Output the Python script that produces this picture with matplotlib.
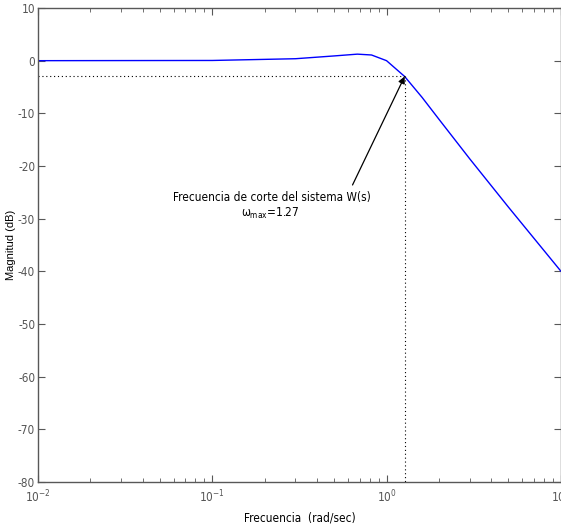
import numpy as np
import matplotlib
matplotlib.use("Agg")
import matplotlib.pyplot as plt
from matplotlib.ticker import LogLocator, FixedLocator

# magnitude response of W(s), sampled as on the bode plot
freq = [0.01, 0.1, 0.3, 0.5, 0.68, 0.82, 1.0, 1.27, 1.6, 2.0, 3.0, 5.0, 10.0]
mag_db = [0.0, 0.04, 0.37, 0.90, 1.24, 1.08, 0.0, -3.0, -6.98, -11.14, -18.63, -27.79, -39.96]

w_cut = 1.27
db_cut = -3.0

plt.rcParams['font.family'] = ['DejaVu Sans']
plt.rcParams['font.stretch'] = 'condensed'
plt.rcParams['mathtext.default'] = 'regular'
plt.rcParams['axes.unicode_minus'] = False

fig = plt.figure(figsize=(5.61, 5.27), dpi=100)
ax = fig.add_axes([0.0677, 0.0854, 0.932, 0.8994])

ax.plot(freq, mag_db, color='#0000ff', lw=1.0)

# -3 dB guides
ax.plot([freq[0], w_cut], [db_cut, db_cut], ls=(0, (1, 2.5)), color='k', lw=0.8)
ax.plot([w_cut, w_cut], [db_cut, -80], ls=(0, (1, 2.5)), color='k', lw=0.8)

ax.set_xscale('log')
ax.set_xlim(0.01, 10)
ax.set_ylim(-80, 10)
ax.yaxis.set_major_locator(FixedLocator(np.arange(-80, 11, 10)))
ax.xaxis.set_major_locator(LogLocator(base=10, numticks=10))
ax.xaxis.set_minor_locator(LogLocator(base=10, subs=np.arange(2, 10), numticks=10))

spine_col = '#585858'
for s in ax.spines.values():
    s.set_color(spine_col)
    s.set_linewidth(1.0)
ax.tick_params(which='both', direction='in', top=True, right=True,
               colors=spine_col, labelcolor='#555555', labelsize=8.5)
ax.tick_params(which='major', length=5, pad=2)
ax.tick_params(which='minor', length=3)
ax.tick_params(axis='x', which='major', pad=5)

ax.set_xlabel('Frecuencia  (rad/sec)', fontsize=8.5, labelpad=4)
ax.set_ylabel('Magnitud (dB)', fontsize=8, family=['Liberation Sans', 'DejaVu Sans'])
ax.yaxis.set_label_coords(-0.042, 0.5)

ax.annotate('', xy=(w_cut, db_cut), xytext=(0.638, -23.6),
            arrowprops=dict(arrowstyle='-|>', color='k', lw=0.9,
                            mutation_scale=10, shrinkA=0, shrinkB=0))
ax.text(0.221, -25.9, 'Frecuencia de corte del sistema W(s)', ha='center', va='center', fontsize=8.5)
ax.text(0.215, -29.1, r'$\omega_{max}$=%.2f' % w_cut, ha='center', va='center', fontsize=8.5)

fig.savefig('out.png', dpi=100)
